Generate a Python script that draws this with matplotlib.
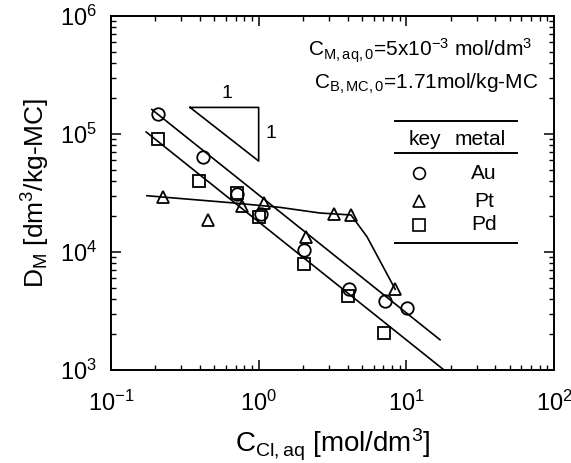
import matplotlib
matplotlib.use("Agg")
import matplotlib.pyplot as plt
import numpy as np

plt.rcParams['font.family'] = ['Liberation Sans', 'DejaVu Sans']
plt.rcParams['mathtext.fontset'] = 'custom'
plt.rcParams['mathtext.rm'] = 'Liberation Sans'
plt.rcParams['mathtext.it'] = 'Liberation Sans:italic'
plt.rcParams['mathtext.bf'] = 'Liberation Sans:bold'

# data
au_x = [0.207, 0.418, 0.71, 1.04, 2.04, 4.1, 7.2, 10.1]
au_y = [1.47e5, 6.35e4, 3.1e4, 2.09e4, 1.04e4, 4.83e3, 3.84e3, 3.37e3]

pt_x = [0.226, 0.452, 0.767, 1.09, 2.08, 3.22, 4.22, 8.41]
pt_y = [2.94e4, 1.87e4, 2.45e4, 2.62e4, 1.35e4, 2.08e4, 2.06e4, 4.83e3]

pd_x = [0.207, 0.396, 0.71, 1.01, 2.04, 4.0, 7.05]
pd_y = [9.07e4, 4.0e4, 3.19e4, 1.97e4, 7.87e3, 4.24e3, 2.07e3]

# fitted lines (slope -1) and Pt guide curve
au_fit_x = [0.189, 16.9]
au_fit_k = 30500.0
pd_fit_x = [0.173, 18.0]
pd_fit_k = 18000.0
pt_curve_x = [0.175, 0.225, 0.64, 1.39, 2.60, 4.22, 5.41, 8.41]
pt_curve_y = [3.0e4, 2.92e4, 2.62e4, 2.39e4, 2.14e4, 2.06e4, 1.35e4, 4.83e3]

# slope triangle
tri_x = [0.343, 1.0, 1.0, 0.343]
tri_y = [1.68e5, 1.68e5, 5.9e4, 1.68e5]

fig = plt.figure(figsize=(5.71, 4.63), dpi=100)
ax = fig.add_axes([0.1944, 0.2009, 0.7758, 0.7645])

ax.plot(au_fit_x, [au_fit_k / x for x in au_fit_x], color='black', lw=1.2)
ax.plot(pd_fit_x, [pd_fit_k / x for x in pd_fit_x], color='black', lw=1.2)
ax.plot(pt_curve_x, pt_curve_y, color='black', lw=1.2)
ax.plot(tri_x, tri_y, color='black', lw=1.2)

mk = dict(ls='none', mfc='none', mec='black', mew=1.3, ms=9)
ax.plot(au_x, au_y, marker='o', **mk)
ax.plot(pt_x, pt_y, marker='^', **mk)
ax.plot(pd_x, pd_y, marker='s', **mk)

ax.set_xscale('log')
ax.set_yscale('log')
ax.set_xlim(0.1, 100)
ax.set_ylim(1e3, 1e6)

ax.tick_params(which='both', direction='in', top=True, right=True, labelsize=17)
ax.tick_params(axis='x', pad=15)
ax.tick_params(axis='y', pad=10)
ax.tick_params(which='major', length=7, width=1.1)
ax.tick_params(which='minor', length=3.5, width=1.0)
for s in ax.spines.values():
    s.set_linewidth(1.4)

ax.set_xlabel(r'$\mathrm{C_{Cl,aq}}$ [mol/dm$^3$]', fontsize=20, labelpad=8)
ax.set_ylabel(r'$\mathrm{D_M}$ [dm$^3$/kg-MC]', fontsize=19, labelpad=6)

ax.text(0.950, 0.887, r'$\mathrm{C_{M,aq,0}}$=5x10$^{-3}$ mol/dm$^3$',
        transform=ax.transAxes, ha='right', va='baseline', fontsize=15)
ax.text(0.964, 0.796, r'$\mathrm{C_{B,MC,0}}$=1.71mol/kg-MC',
        transform=ax.transAxes, ha='right', va='baseline', fontsize=15)

# slope labels
ax.text(0.606, 2.21e5, '1', ha='center', va='center', fontsize=14)
ax.text(1.22, 1.01e5, '1', ha='center', va='center', fontsize=14)

# key table
t = ax.transAxes
x0, x1 = (395 - 111) / 443, (517 - 111) / 443
def ay(py):
    return (370 - py) / 354
for py in [121, 153, 243]:
    ax.plot([x0, x1], [ay(py), ay(py)], color='black', lw=1.4, transform=t)
ax.text((425 - 111) / 443, ay(145), 'key', transform=t, ha='center', va='baseline', fontsize=15)
ax.text((480 - 111) / 443, ay(145), 'metal', transform=t, ha='center', va='baseline', fontsize=15)
keys = ['o', '^', 's']
names = ['Au', 'Pt', 'Pd']
rows = [(173, 179), (201, 206.7), (225, 230)]
for m, n, (pm, pt) in zip(keys, names, rows):
    ax.plot([(419 - 111) / 443], [ay(pm)], marker=m, mfc='none', mec='black', mew=1.2, ms=8.5,
            transform=t)
    ax.text((484 - 111) / 443, ay(pt), n, transform=t, ha='center', va='baseline', fontsize=15)

fig.savefig('out.png', dpi=100)
